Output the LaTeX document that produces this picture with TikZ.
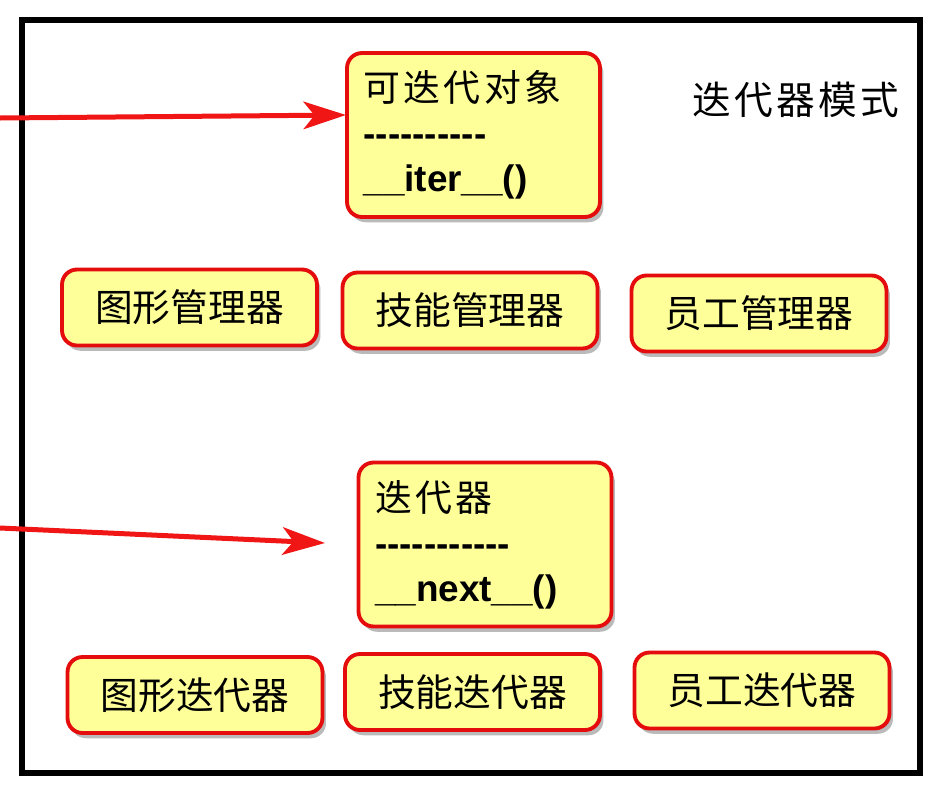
\documentclass[tikz,border=0pt]{standalone}
\usepackage{fontspec}
\setmainfont{Liberation Sans}
\newfontfamily\cjk{Noto Sans CJK SC}
\newfontfamily\cjkwide{Noto Sans CJK SC}[LetterSpace=9]
\usetikzlibrary{arrows.meta,positioning,shadows}
\definecolor{boxred}{RGB}{228,12,12}
\definecolor{boxfill}{RGB}{255,255,153}
\definecolor{arrowred}{RGB}{240,22,22}
\tikzset{card/.style={draw=boxred,fill=boxfill,line width=2.2pt,rounded corners=0.3cm,
    drop shadow={shadow xshift=2pt,shadow yshift=-3pt,opacity=.45,fill=black!60}},
  classbox/.style={card,minimum width=5.06cm,minimum height=3.28cm,text width=4.4cm,
    align=left,inner xsep=0.33cm,font=\fontsize{21}{25.6}\selectfont},
  partbox/.style={card,minimum width=5.1cm,minimum height=1.52cm,font=\cjk\fontsize{21.5}{25}\selectfont},
  link/.style={draw=arrowred,line width=0.1cm,-{Stealth[length=0.85cm,width=0.55cm,inset=0.22cm]}}}

\begin{document}
\begin{tikzpicture}[x=0.02cm,y=-0.02cm]
\useasboundingbox (0,0) rectangle (937,788);
\draw[line width=0.11cm] (22,20) rectangle (920,773);
\node[font=\cjkwide\fontsize{22}{26}\selectfont] (title) at (796,100) {迭代器模式};
% aggregate side
\node[classbox] (iterable) at (473.5,135)
 {{\cjkwide 可迭代对象}\\ \textbf{-{}-{}-{}-{}-{}-{}-{}-{}-{}-}\\ \textbf{\_\_iter\_\_()}};
\node[partbox] (shapemgr) at (189.5,307.5) {图形管理器};
\node[partbox] (skillmgr) at (470,310.5) {技能管理器};
\node[partbox] (staffmgr) at (759,313.5) {员工管理器};
% iterator side
\node[classbox] (iterator) at (485,544.5)
 {{\cjkwide 迭代器}\\ \textbf{-{}-{}-{}-{}-{}-{}-{}-{}-{}-{}-}\\ \textbf{\_\_next\_\_()}};
\node[partbox] (shapeit) at (195,695) {图形迭代器};
\node[partbox] (skillit) at (472.5,692) {技能迭代器};
\node[partbox] (staffit) at (762,690.5) {员工迭代器};
\coordinate (inA) at (0,118);
\coordinate (tipA) at (346,115);
\coordinate (inB) at (0,528);
\coordinate (tipB) at (325,543);
\draw[link] (inA) -- (tipA);
\draw[link] (inB) -- (tipB);
\end{tikzpicture}
\end{document}
